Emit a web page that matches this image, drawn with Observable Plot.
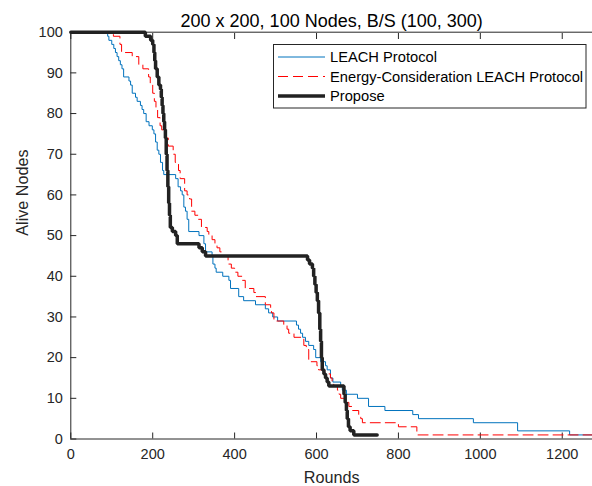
<!DOCTYPE html>
<html><head><meta charset="utf-8">
<script src="https://cdn.jsdelivr.net/npm/d3@7"></script>
<script src="https://cdn.jsdelivr.net/npm/@observablehq/plot@0.6"></script>
<style>html,body{margin:0;padding:0;background:#fff;overflow:hidden}</style>
</head><body><div id="chart"></div>
<script>
const title = "200 x 200, 100 Nodes, B/S (100, 300)";
const xLabel = "Rounds";
const yLabel = "Alive Nodes";
const seriesNames = ["LEACH Protocol", "Energy-Consideration LEACH Protocol", "Propose"];
const xTicks = [0, 200, 400, 600, 800, 1000, 1200];
const yTicks = [0, 10, 20, 30, 40, 50, 60, 70, 80, 90, 100];

// LEACH Protocol (step points: round, alive)
const leachRounds = [0,90,93,100,105,109,113,117,121,125,129,142,146,150,158,162,170,174,178,184,191,199,203,207,211,215,219,224,227,256,262,268,272,276,280,284,288,313,325,329,345,347,352,355,371,386,390,410,422,451,475,483,493,505,551,556,561,566,573,581,593,598,610,622,626,634,640,659,663,673,700,727,767,835,849,983,1091,1218,1300];
const leachAlive  = [100,99,98,97,96,95,94,93,92,91,89,88,87,85,84,83,82,81,80,78,77,76,75,73,71,70,68,66,65,64,62,61,60,57,56,54,51,50,48,46,45,43,42,41,40,39,37,35,34,33,32,31,30,29,28,27,26,25,24,23,22,20,19,18,17,15,14,13,12,11,10,8,7,6,5,4,2,1,1];

// Energy-Consideration LEACH Protocol
const ecRounds = [0,104,120,124,150,166,176,190,194,200,204,208,212,218,222,233,238,250,255,263,267,278,284,290,295,303,312,319,333,337,345,352,357,364,368,384,392,400,408,418,426,447,451,475,488,490,496,520,528,532,545,569,575,581,601,605,620,634,638,642,651,655,659,670,679,688,703,708,712,800,845,1300];
const ecAlive  = [100,99,97,95,94,92,91,89,87,85,83,81,79,77,76,74,72,70,68,66,64,61,60,59,56,55,54,52,51,50,49,48,47,46,45,43,42,41,40,39,37,36,35,33,32,31,29,28,27,26,25,23,22,19,18,17,16,15,14,13,12,11,10,9,8,7,6,5,4,3,1,1];

// Propose
const propRounds = [0,182,195,200,203,205,207,211,215,219,221,223,225,227,229,231,233,235,237,239,241,243,248,256,260,313,321,329,578,583,590,593,596,599,602,605,608,610,612,614,618,622,626,630,667,670,673,675,678,682,691,748];
const propAlive  = [100,99,98,97,95,93,91,89,87,86,84,82,80,78,76,74,70,66,62,58,55,52,51,50,48,47,46,45,44,43,42,40,38,36,34,31,27,24,20,17,16,15,14,13,11,9,7,5,3,2,1,1];

const colors = ["#0072BD", "#FF0000", "#222222"];
const widths = [1, 1, 3.5];
const dashes = [null, "10,5", null];

const toRows = (name, xs, ys) => xs.map((r, i) => ({series: name, round: r, alive: ys[i]}));
const seriesData = [
  toRows(seriesNames[0], leachRounds, leachAlive),
  toRows(seriesNames[1], ecRounds, ecAlive),
  toRows(seriesNames[2], propRounds, propAlive)
];

const font = "'Liberation Sans', Arial, Helvetica, sans-serif";
const axisColor = "#262626";

const plot = Plot.plot({
  width: 592,
  height: 486,
  marginTop: 32,
  marginBottom: 47.5,
  marginLeft: 70.3,
  marginRight: 0,
  style: {fontFamily: font, fontSize: "14.5px", color: axisColor, background: "white", overflow: "hidden"},
  x: {domain: [0, 1300], range: [70.3, 602.7]},
  y: {domain: [0, 100], range: [438.5, 31.7]},
  marks: [
    Plot.ruleY([0, 100], {stroke: axisColor, strokeWidth: 1}),
    Plot.ruleX([0], {stroke: axisColor, strokeWidth: 1}),
    Plot.axisX({ticks: xTicks, anchor: "bottom", tickSize: -6, tickPadding: 16, tickFormat: d => String(d), label: null}),
    Plot.axisX({ticks: xTicks, anchor: "top", tickSize: -6, tickFormat: () => "", label: null}),
    Plot.axisY({ticks: yTicks, anchor: "left", tickSize: -6, tickPadding: 14, tickFormat: d => String(d), label: null}),
    ...seriesData.map((rows, i) => Plot.line(rows, {
      x: "round", y: "alive", curve: "step-after",
      stroke: colors[i], strokeWidth: widths[i], strokeDasharray: dashes[i],
      strokeLinejoin: "miter"
    })),
    Plot.text([title], {frameAnchor: "top", dy: -6, lineAnchor: "bottom", fontSize: 18, fill: "#000"}),
    Plot.text([xLabel], {frameAnchor: "bottom", dy: 44, lineAnchor: "bottom", fontSize: 16.2, fill: axisColor}),
    Plot.text([yLabel], {frameAnchor: "left", dx: -48, rotate: -90, lineAnchor: "middle", fontSize: 16.2, fill: axisColor})
  ]
});

// Legend (inside the axes, top-right)
const svg = d3.select(plot);
const lg = svg.append("g").attr("font-family", font).attr("font-size", 14.7).attr("text-anchor", "start");
lg.append("rect").attr("x", 273.5).attr("y", 44.5).attr("width", 312.5).attr("height", 63.5)
  .attr("fill", "white").attr("stroke", axisColor).attr("stroke-width", 1);
seriesNames.forEach((name, i) => {
  const y = 57 + i * 19.5;
  lg.append("line").attr("x1", 278).attr("x2", 325).attr("y1", y).attr("y2", y)
    .attr("stroke", colors[i]).attr("stroke-width", widths[i])
    .attr("stroke-dasharray", dashes[i]);
  lg.append("text").attr("x", 330).attr("y", y).attr("dy", "0.35em")
    .attr("text-anchor", "start").attr("fill", "#000").text(name);
});

document.getElementById("chart").appendChild(plot);
</script>
</body></html>
